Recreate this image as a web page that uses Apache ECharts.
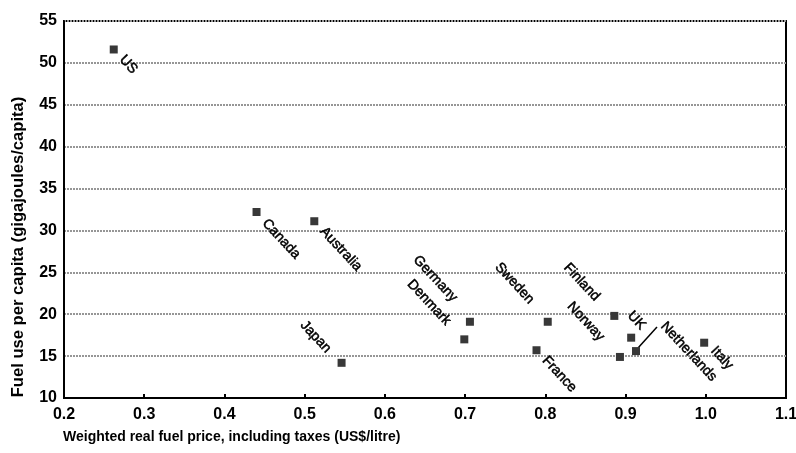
<!DOCTYPE html>
<html>
<head>
<meta charset="utf-8">
<title>Fuel price and fuel use</title>
<script src="https://cdn.jsdelivr.net/npm/echarts@6/dist/echarts.min.js"></script>
<style>
  html, body { margin: 0; padding: 0; background: #fff; }
  #main { width: 796px; height: 453px; }
</style>
</head>
<body>
<div id="main"></div>
<script>
// data
var countries = ['US', 'Canada', 'Australia', 'Japan', 'Germany', 'Denmark', 'France',
                 'Sweden', 'Finland', 'Norway', 'UK', 'Netherlands', 'Italy'];
var fuelPrice = [0.262, 0.440, 0.512, 0.546, 0.706, 0.699, 0.789,
                 0.803, 0.886, 0.893, 0.907, 0.913, 0.998];
var fuelUse = [51.6, 32.2, 31.1, 14.2, 19.1, 17.0, 15.7,
               19.1, 19.8, 14.9, 17.2, 15.6, 16.6];

// where each name sits relative to its marker: [dx, dy, align]
var labelSpots = {
  'US': [8, 8, 'left'],
  'Canada': [8, 9, 'left'],
  'Australia': [8, 8, 'left'],
  'Japan': [-13, -12, 'right'],
  'Germany': [-15, -22, 'right'],
  'Denmark': [-16, -16, 'right'],
  'France': [8, 8, 'left'],
  'Sweden': [-16, -20, 'right'],
  'Finland': [-17, -17, 'right'],
  'Norway': [-18, -18, 'right'],
  'UK': [12, -10, 'right'],
  'Netherlands': [27, -27, 'left'],
  'Italy': [9, 6, 'left']
};
// countries whose name is pulled away and tied back with a short line
var leaderFor = ['Netherlands'];

var labelFont = '"Liberation Sans Narrow", "Liberation Sans", Arial, sans-serif';
var axisFont = '"Liberation Sans", Arial, sans-serif';

var points = countries.map(function (c, i) {
  return { name: c, value: [fuelPrice[i], fuelUse[i]] };
});
var leaderPoints = leaderFor.map(function (c) {
  var i = countries.indexOf(c);
  return [fuelPrice[i], fuelUse[i]];
});

var myChart = echarts.init(document.getElementById('main'));

var option = {
  animation: false,
  grid: {
    left: 64, right: 10, top: 21, bottom: 55,
    containLabel: false, outerBoundsMode: 'none',
    show: true, borderColor: '#000', borderWidth: 2
  },
  xAxis: {
    type: 'value',
    min: 0.2, max: 1.1, interval: 0.1,
    axisLine: { lineStyle: { color: '#000', width: 2 } },
    axisTick: { inside: true, length: 4, lineStyle: { color: '#000', width: 2 } },
    splitLine: { show: false },
    axisLabel: {
      color: '#000', fontFamily: axisFont, fontWeight: 'bold', fontSize: 16, margin: 9,
      formatter: function (v) { return v.toFixed(1); }
    }
  },
  yAxis: {
    type: 'value',
    min: 10, max: 55, interval: 5,
    axisLine: { show: true, lineStyle: { color: '#000', width: 2 } },
    axisTick: { show: false },
    splitLine: { lineStyle: { color: '#969696', width: 2, type: [2, 1] } },
    axisLabel: {
      color: '#000', fontFamily: axisFont, fontWeight: 'bold', fontSize: 16, margin: 7,
      padding: [0, 0, 14, 0]
    }
  },
  graphic: [
    {
      type: 'text', left: 63, top: 430,
      style: {
        text: 'Weighted real fuel price, including taxes (US$/litre)',
        fill: '#000', font: 'bold 14px ' + axisFont
      }
    },
    {
      type: 'text', x: 18, y: 247, rotation: Math.PI / 2,
      style: {
        text: 'Fuel use per capita (gigajoules/capita)',
        fill: '#000', font: 'bold 16.6px ' + axisFont,
        align: 'center', verticalAlign: 'middle'
      }
    }
  ],
  series: [{
    type: 'scatter',
    symbol: 'rect',
    symbolSize: 8,
    itemStyle: { color: '#383838', opacity: 1 },
    data: points,
    label: {
      show: true,
      formatter: '{b}',
      color: '#000',
      fontFamily: labelFont,
      fontSize: 14,
      textBorderColor: '#000',
      textBorderWidth: 0.5
    },
    labelLayout: function (p) {
      var s = labelSpots[countries[p.dataIndex]];
      var cx = p.rect.x + p.rect.width / 2;
      var cy = p.rect.y + p.rect.height / 2;
      return {
        x: cx + s[0], y: cy + s[1],
        align: s[2], verticalAlign: 'middle',
        rotate: -47
      };
    }
  }, {
    // short leader line from marker toward its displaced name
    type: 'custom',
    data: leaderPoints,
    silent: true,
    renderItem: function (params, api) {
      var p = api.coord([api.value(0), api.value(1)]);
      return {
        type: 'line',
        shape: { x1: p[0] + 2, y1: p[1] - 3, x2: p[0] + 21, y2: p[1] - 24 },
        style: { stroke: '#000', lineWidth: 1.5 }
      };
    }
  }]
};

myChart.setOption(option);
</script>
</body>
</html>
